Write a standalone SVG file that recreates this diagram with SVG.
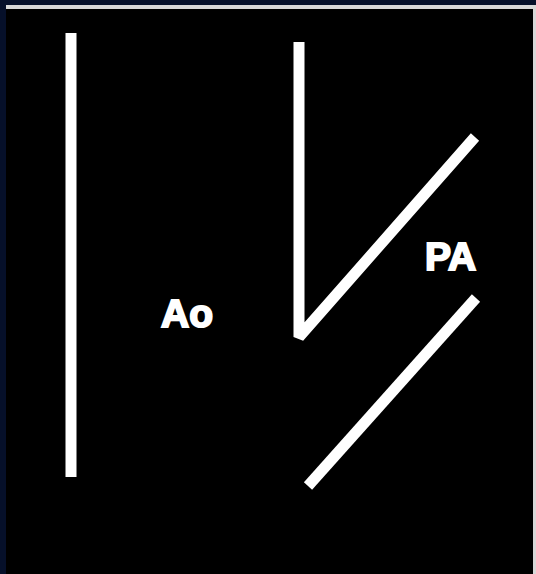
<svg xmlns="http://www.w3.org/2000/svg" width="536" height="574" viewBox="0 0 536 574">
<style>
.ln{stroke:#ffffff;stroke-width:11;fill:none;stroke-linecap:butt;stroke-linejoin:bevel}
.lb{font-family:"Liberation Sans",Arial,sans-serif;font-weight:bold;font-size:39px;fill:#ffffff;stroke:#ffffff;stroke-width:2}
</style>
<rect x="0" y="0" width="536" height="574" fill="#06102a"/>
<rect x="6" y="5" width="530" height="569" fill="#d8d8d8"/>
<rect x="6" y="9" width="527" height="565" fill="#000000"/>
<g id="connectors">
<line id="aorta" class="ln" x1="71" y1="33" x2="71" y2="477"/>
<polyline id="pa-upper" class="ln" points="299,42 299,337 475,137"/>
<line id="pa-lower" class="ln" x1="308" y1="486" x2="476" y2="298"/>
</g>
<g id="label-ao"><text class="lb" x="161" y="327">Ao</text></g>
<g id="label-pa"><text class="lb" x="425" y="270">PA</text></g>
</svg>
